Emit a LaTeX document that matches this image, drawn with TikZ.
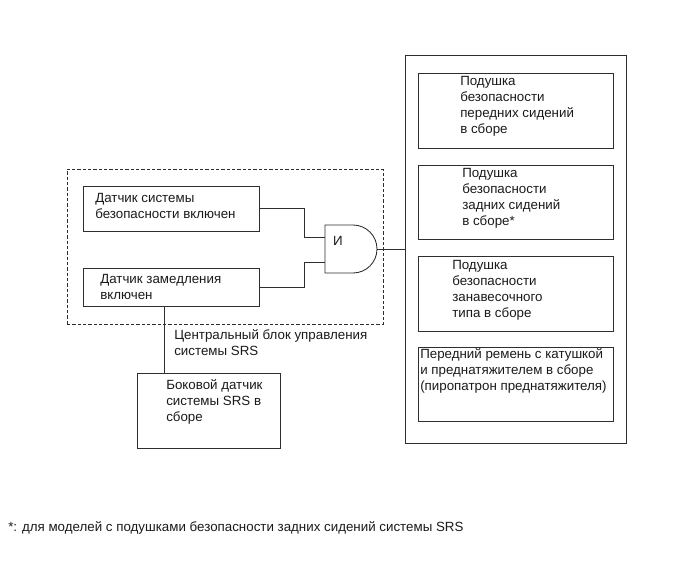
\documentclass[tikz,border=0pt]{standalone}
\usepackage{fontspec}
\setmainfont{Liberation Sans}
\usetikzlibrary{positioning,fit}
\definecolor{lineCol}{HTML}{2E2E2E}
\definecolor{textCol}{HTML}{1A1A1A}
\tikzset{
  box/.style={draw=lineCol, line width=0.65pt, inner sep=0pt},
  ecubox/.style={draw=lineCol, dash pattern=on 2.4pt off 1.6pt, line width=0.65pt, inner sep=0pt},
  lbl/.style={anchor=west, inner sep=0pt, align=left, text=textCol,
              font=\fontsize{10}{12}\selectfont},
  wire/.style={draw=lineCol, line width=0.65pt},
}

\begin{document}
\begin{tikzpicture}[x=0.75pt,y=-0.75pt]
  \useasboundingbox (0,0) rectangle (690,562);

  % control unit with both sensors
  \node[ecubox, fit={(67,169) (383,324)}] (ecu) {};
  \node[box, fit={(83,186) (259,231)}] (s1) {};
  \node[box, fit={(83,268) (259,306)}] (s2) {};
  \node[lbl] (s1t) at (95,206) {Датчик системы\\безопасности включен};
  \node[lbl] (s2t) at (100,287) {Датчик замедления\\включен};
  \node[lbl] (ecut) at (174,343) {Центральный блок управления\\системы SRS};

  % AND gate
  \draw[wire] (325,225) -- (353,225) arc[start angle=-90, end angle=90, radius=24] -- (325,273) -- cycle;
  \node[lbl, anchor=center] (and) at (338,241) {И};
  \coordinate (gin1) at (325,237);
  \coordinate (gin2) at (325,262);
  \coordinate (gout) at (377,249);

  % side sensor
  \node[box, fit={(137,373) (280,448)}] (side) {};
  \node[lbl] (sidet) at (166,402) {Боковой датчик\\системы SRS в\\сборе};

  % airbags and pretensioner
  \node[box, fit={(405,55) (626,443)}] (bags) {};
  \node[box, fit={(418,73) (613,148)}] (ab1) {};
  \node[box, fit={(418,165) (613,239)}] (ab2) {};
  \node[box, fit={(418,256) (613,331)}] (ab3) {};
  \node[box, fit={(418,347) (613,421)}] (ab4) {};
  \node[lbl] (ab1t) at (460,106) {Подушка\\безопасности\\передних сидений\\в сборе};
  \node[lbl] (ab2t) at (462,198) {Подушка\\безопасности\\задних сидений\\в сборе*};
  \node[lbl] (ab3t) at (452,290) {Подушка\\безопасности\\занавесочного\\типа в сборе};
  \node[lbl] (ab4t) at (420,371) {Передний ремень с катушкой\\и преднатяжителем в сборе\\(пиропатрон преднатяжителя)};

  % wiring
  \draw[wire] (s1.east) -- ++(45,0) |- (gin1);
  \draw[wire] (s2.east) -- ++(45,0) |- (gin2);
  \draw[wire] (gout) -- (gout -| bags.west);
  \coordinate (tap) at (164,306);
  \draw[wire] (tap) -- (tap |- side.north);

  % footnote
  \node[lbl] (note) at (8,528) {*: для моделей с подушками безопасности задних сидений системы SRS};
\end{tikzpicture}
\end{document}
